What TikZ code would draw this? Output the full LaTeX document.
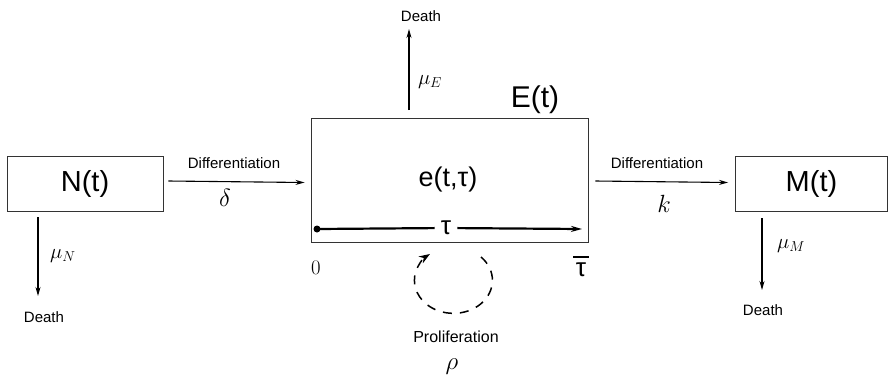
\documentclass[tikz,border=0pt]{standalone}
\usepackage{fontspec}
\setmainfont{Liberation Sans}
\usetikzlibrary{arrows.meta,positioning}

\begin{document}
\begin{tikzpicture}[
    x=1pt, y=-1pt,
    box/.style={rectangle, draw=black!80, line width=0.9pt, inner sep=0pt, font=\fontsize{29}{32}\selectfont},
    arrow/.style={-{Stealth[length=9pt,width=5pt]}, line width=1.1pt},
    small/.style={font=\fontsize{15}{17}\selectfont},
    rate/.style={font=\fontsize{22}{24}\selectfont},
    coef/.style={font=\fontsize{24}{26}\selectfont}
]
    \useasboundingbox (0,0) rectangle (888,384);

    % compartments
    \node[box, minimum width=156pt, minimum height=55pt] (N) at (85,183.5) {N(t)};
    \node[box, minimum width=277pt, minimum height=124pt] (E) at (449.5,180) {};
    \node[box, minimum width=152pt, minimum height=55pt] (M) at (811.5,183.5) {M(t)};
    \node[font=\fontsize{30}{32}\selectfont] (Elab) at (535,100) {E(t)};
    \node[font=\fontsize{27}{30}\selectfont] (e) at (448,180) {e(t,τ)};

    % age axis
    \coordinate (t0) at (317,229);
    \coordinate (t1) at (582,229);
    \node[font=\fontsize{26}{28}\selectfont, fill=white, inner sep=6pt] (tau) at (446,228) {τ};
    \fill (t0) circle (3.5pt);
    \draw[line width=2.2pt] (t0) -- (tau);
    \draw[-{Stealth[length=11pt,width=6pt]}, line width=2.2pt] (tau) -- (t1);
    \node[font=\fontsize{22}{24}\selectfont] (zero) at (316,268) {$0$};
    \node[font=\fontsize{26}{28}\selectfont] (taubar) at (581,270) {τ};
    \draw[line width=2.4pt] ([xshift=-8pt,yshift=13pt]taubar.center) -- ([xshift=8pt,yshift=13pt]taubar.center);

    % differentiation
    \draw[arrow] (N.east) ++(5,-2.5) coordinate (d0) -- ([yshift=-2.5pt,xshift=-6pt]E.west) coordinate (d1);
    \node[small] (diffN) at (234,163) {Differentiation};
    \node[coef] (delta) at (225,198) {$\delta$};
    \draw[arrow] (E.east) ++(7,1) coordinate (k0) -- ([yshift=1pt,xshift=-7pt]M.west) coordinate (k1);
    \node[small] (diffE) at (657,163) {Differentiation};
    \node[coef] (kk) at (664,204) {$k$};

    % deaths
    \node[small] (deathN) at (44,317) {Death};
    \node[small] (deathE) at (421,16) {Death};
    \node[small] (deathM) at (763,310) {Death};
    \draw[arrow] (38,217) coordinate (n0) -- (38,296);
    \node[rate] (muN) at (63,256) {$\mu_N$};
    \draw[arrow] (409,110) coordinate (e0) -- (409,29);
    \node[rate] (muE) at (430,82) {$\mu_E$};
    \draw[arrow] (762,218) coordinate (m0) -- (762,290);
    \node[rate] (muM) at (791,246) {$\mu_M$};

    % proliferation
    \draw[dash pattern=on 9pt off 8pt, line width=1.5pt, -{Stealth[length=11pt,width=8pt]}]
        (481,257) arc[start angle=45, end angle=-233, x radius=39pt, y radius=33pt];
    \node[font=\fontsize{16}{18}\selectfont] (prolif) at (456,337) {Proliferation};
    \node[coef] (rho) at (452,367) {$\rho$};
\end{tikzpicture}
\end{document}
